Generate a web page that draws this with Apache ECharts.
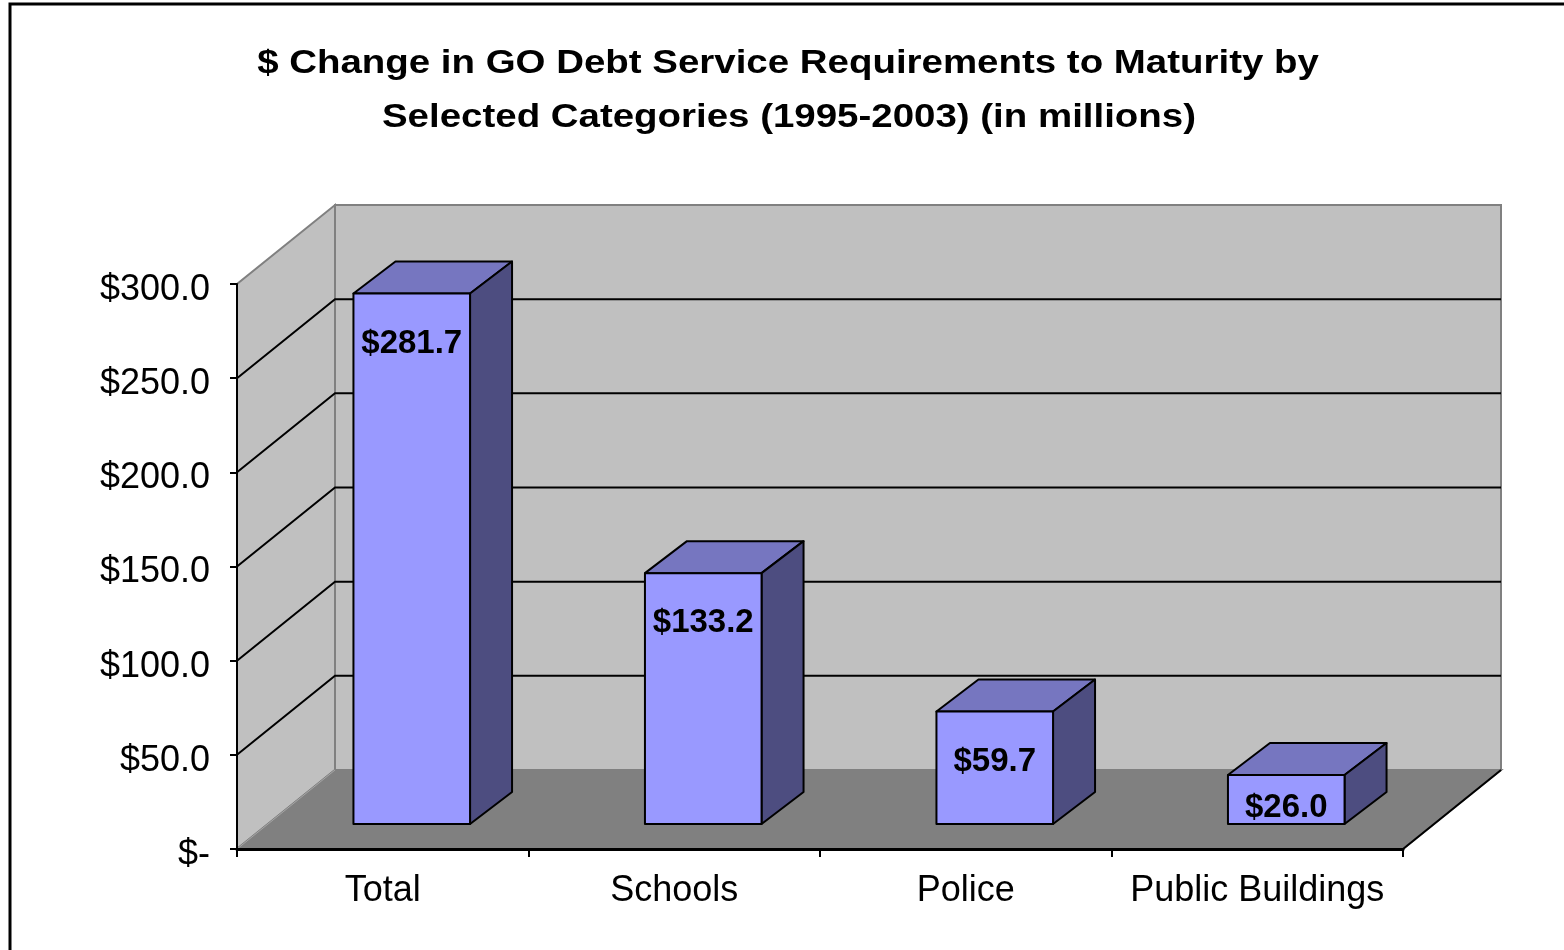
<!DOCTYPE html>
<html>
<head>
<meta charset="utf-8">
<script src="https://cdn.jsdelivr.net/npm/echarts@6/dist/echarts.min.js"></script>
<style>html,body{margin:0;padding:0;background:#fff}#c{width:1564px;height:950px}</style>
</head>
<body>
<div id="c"></div>
<script>
const titleLines = ['$ Change in GO Debt Service Requirements to Maturity by', 'Selected Categories (1995-2003) (in millions)'];
const categories = ['Total', 'Schools', 'Police', 'Public Buildings'];
const values = [281.7, 133.2, 59.7, 26.0];
const yMin = 0, yMax = 300, yStep = 50;

const FONT = '"Liberation Sans", Arial, sans-serif';
// 3D projection offsets (pixels)
const DX = 98, DY = -79;       // full depth of the floor / walls
const FX = 29, FY = -25;       // bar front plane offset
const BDX = 42, BDY = -32;     // bar depth

function fmt(v) { return v === 0 ? '$-' : '$' + v.toFixed(1); }

const chart = echarts.init(document.getElementById('c'));
chart.setOption({
  backgroundColor: '#fff',
  animation: false,
  graphic: [
    {
      type: 'rect', shape: { x: 10, y: 4, width: 1600, height: 1000 },
      style: { fill: null, stroke: '#000', lineWidth: 3 }, silent: true, z: 100
    },
    {
      type: 'text', x: 788, y: 64, scaleX: 1.165, z: 100,
      style: { text: titleLines[0], font: 'bold 33px ' + FONT, fill: '#000', align: 'center', verticalAlign: 'middle' }
    },
    {
      type: 'text', x: 789, y: 118, scaleX: 1.165, z: 100,
      style: { text: titleLines[1], font: 'bold 33px ' + FONT, fill: '#000', align: 'center', verticalAlign: 'middle' }
    }
  ],
  grid: { left: 237, right: 161, top: 284, bottom: 101, containLabel: false },
  xAxis: {
    type: 'category', data: categories, z: 10,
    axisLine: { show: true, lineStyle: { color: '#000', width: 3 } },
    axisTick: { show: true, length: 8, lineStyle: { color: '#000', width: 2 } },
    axisLabel: { color: '#000', fontFamily: FONT, fontSize: 36, margin: 24, interval: 0 },
    splitLine: { show: false }
  },
  yAxis: {
    type: 'value', min: yMin, max: yMax, interval: yStep, z: 10,
    axisLine: { show: true, lineStyle: { color: '#000', width: 2 } },
    axisTick: { show: true, length: 7, lineStyle: { color: '#000', width: 2 } },
    axisLabel: { color: '#000', fontFamily: FONT, fontSize: 36, margin: 27, formatter: fmt, verticalAlign: 'top', lineHeight: 12 },
    splitLine: { show: false }
  },
  series: [
    {
      type: 'custom', z: 1, silent: true,
      data: [[0, 0]],
      renderItem: function (params, api) {
        const cs = params.coordSys;
        const x0 = cs.x, x1 = cs.x + cs.width;
        const yb = api.coord([0, yMin])[1];
        const yt = api.coord([0, yMax])[1];
        const children = [];
        // side wall
        children.push({ type: 'polygon', shape: { points: [[x0, yt], [x0, yb], [x0 + DX, yb + DY], [x0 + DX, yt + DY]] },
          style: { fill: '#c0c0c0', stroke: '#808080', lineWidth: 2 } });
        // back wall
        children.push({ type: 'rect', shape: { x: x0 + DX, y: yt + DY, width: x1 - x0, height: yb - yt },
          style: { fill: '#c0c0c0', stroke: '#808080', lineWidth: 2 } });
        // floor
        children.push({ type: 'polygon', shape: { points: [[x0, yb], [x1, yb], [x1 + DX, yb + DY], [x0 + DX, yb + DY]] },
          style: { fill: '#808080', stroke: '#808080', lineWidth: 2 } });
        children.push({ type: 'line', shape: { x1: x0, y1: yb, x2: x0 + DX, y2: yb + DY },
          style: { stroke: '#a6a6a6', lineWidth: 1 } });
        children.push({ type: 'line', shape: { x1: x1, y1: yb, x2: x1 + DX, y2: yb + DY },
          style: { stroke: '#000', lineWidth: 2 } });
        // gridlines
        for (let v = yMin + yStep; v < yMax; v += yStep) {
          const y = api.coord([0, v])[1];
          children.push({ type: 'polyline', shape: { points: [[x0, y], [x0 + DX, y + DY], [x1 + DX, y + DY]] },
            style: { stroke: '#000', lineWidth: 2, fill: null } });
        }
        return { type: 'group', children: children };
      }
    },
    {
      type: 'custom', z: 5,
      data: values.map((v, i) => [i, v]),
      encode: { x: 0, y: 1 },
      renderItem: function (params, api) {
        const i = api.value(0), v = api.value(1);
        const c0 = api.coord([i, 0]);
        const c1 = api.coord([i, v]);
        const hw = api.size([1, 0])[0] * 0.2;
        const cx = c0[0] + FX;
        const yb = c0[1] + FY, yt = c1[1] + FY;
        const l = cx - hw, r = cx + hw;
        const st = { stroke: '#000', lineWidth: 2, lineJoin: 'round' };
        const ly = Math.min(yt + 50, yb - 16);
        return {
          type: 'group',
          children: [
            { type: 'polygon', shape: { points: [[l, yt], [r, yt], [r + BDX, yt + BDY], [l + BDX, yt + BDY]] },
              style: Object.assign({ fill: '#7676c0' }, st) },
            { type: 'polygon', shape: { points: [[r, yt], [r, yb], [r + BDX, yb + BDY], [r + BDX, yt + BDY]] },
              style: Object.assign({ fill: '#4d4d80' }, st) },
            { type: 'rect', shape: { x: l, y: yt, width: r - l, height: yb - yt },
              style: Object.assign({ fill: '#9999ff' }, st) },
            { type: 'text', x: cx, y: ly,
              style: { text: fmt(v), fill: '#000', font: 'bold 33px ' + FONT, align: 'center', verticalAlign: 'middle' } }
          ]
        };
      }
    }
  ]
});
</script>
</body>
</html>
